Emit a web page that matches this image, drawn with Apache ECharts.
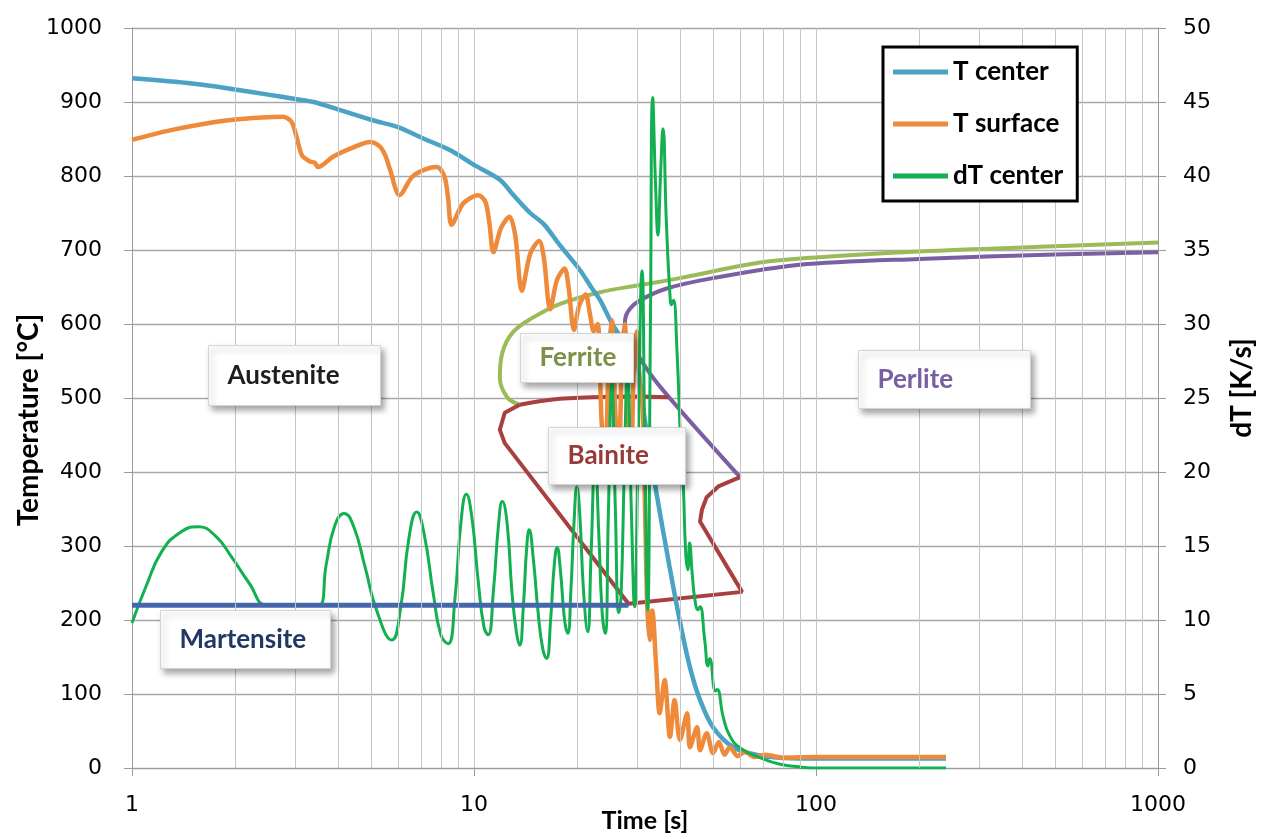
<!DOCTYPE html>
<html><head><meta charset="utf-8">
<script src="https://cdn.jsdelivr.net/npm/echarts@6/dist/echarts.min.js"></script>
<style>html,body{margin:0;padding:0;background:#fff}#c{width:1261px;height:839px}</style>
</head><body><div id="c"></div><script>
// ---- data ----
const minorTicksX = [2,3,4,5,6,7,8,9,20,30,40,50,60,70,80,90,200,300,400,500,600,700,800,900];

const tCenter = [[1,932],[1.5,925],[2,917],[2.5,910],[3,904],[3.4,900],[4,890],[5,876],[6,866],[7,852],[8.5,835],[10,815],[11.9,795],[13,775],[14.6,750],[16,735],[17.8,707],[20.4,673],[22,650],[23.4,632],[25.5,598],[27.4,578],[29.6,566],[30.6,520],[31.7,466],[34.2,370],[37.3,272],[40,198],[42.8,136],[45.8,92],[50,55],[57.3,28],[68.5,17],[90,13],[240,13]];

const tSurface = [[1,849],[1.3,862],[1.6,870],[1.97,876],[2.4,879],[2.76,880],[2.92,874],[3.02,855],[3.14,828],[3.3,820],[3.42,818],[3.5,812],[3.87,826],[4.4,838],[4.97,846],[5.3,840],[5.5,828],[5.67,810],[6.06,774],[6.6,799],[7.2,809],[7.8,812],[8.2,799],[8.4,770],[8.6,734],[9.3,763],[10.3,774],[10.8,765],[11.1,735],[11.4,697],[12.0,730],[12.7,745],[13.2,720],[13.8,645],[14.6,695],[15.5,712],[16.0,690],[16.7,620],[17.5,660],[18.4,675],[18.9,650],[19.6,592],[20.3,625],[21.2,640],[21.8,615],[22.4,590],[23.0,600],[23.6,470],[24.2,420],[24.8,560],[25.3,605],[25.9,480],[26.5,420],[27.1,560],[27.6,600],[28.2,480],[28.8,430],[29.4,560],[29.9,590],[30.5,520],[31.1,490],[31.7,330],[32.1,220],[32.6,173],[33.2,213],[34.1,137],[34.9,74],[36.1,119],[37.4,42],[38.6,92],[40,38],[42,74],[42.8,28],[44.9,55],[45.8,24],[47.9,47],[50,20],[52,35],[54,18],[56,28],[59,16],[62,22],[66,15],[71,18],[80,14],[100,15],[240,15]];

const dTCenter = [[1.0,9.8],[1.1,12.3],[1.22,14.6],[1.38,15.9],[1.56,16.3],[1.75,15.7],[1.95,14.3],[2.2,12.5],[2.48,11.0],[2.8,11.0],[3.2,11.0],[3.52,11.0],[3.7,13.8],[3.92,16.4],[4.17,17.2],[4.45,16.3],[4.8,13.6],[5.2,10.6],[5.75,8.65],[6.1,10.8],[6.45,15.5],[6.8,17.3],[7.15,15.8],[7.6,11.8],[8.0,9.0],[8.4,8.4],[8.8,11.5],[9.15,16.5],[9.5,18.5],[9.85,17],[10.3,12.5],[10.7,9.5],[11.0,9.0],[11.4,12],[11.8,16.5],[12.1,18.0],[12.5,16.5],[12.9,12],[13.3,9.2],[13.6,8.3],[13.95,11],[14.25,14.8],[14.5,16.1],[14.9,14.2],[15.4,10.5],[15.9,8],[16.3,7.4],[16.75,10],[17.15,13.6],[17.5,14.9],[17.9,13.3],[18.4,10],[18.8,9.1],[19.2,12],[19.6,16.5],[20.0,19.0],[20.4,17],[20.9,12],[21.5,9.2],[22.0,14.5],[22.6,21],[23.2,15.5],[23.7,10.5],[24.2,9.1],[24.7,17],[25.3,26],[25.9,17.5],[26.5,10.5],[26.9,11.5],[27.5,20],[28.1,27],[28.8,18],[29.5,10.9],[30.1,20],[31.0,33.6],[31.6,21],[32.2,10.7],[32.8,30],[33.3,45.3],[34.0,39],[34.5,36],[35.1,40],[35.7,43.2],[36.5,37],[37.4,32],[37.8,31.3],[38.3,31.6],[39.2,28.3],[40.2,22],[40.9,19.2],[41.6,14.5],[42.2,13.4],[42.7,15.2],[43.5,13],[44.3,11.3],[45.2,10.7],[45.8,10.9],[47.3,8.6],[48.3,6.9],[48.9,7.4],[50.8,5.2],[51.4,5.3],[53.6,3.4],[55.9,2.2],[60,1.35],[68.6,0.7],[78.5,0.25],[90,0.07],[100,0],[240,0]];

const ferrite = [[13.6,491],[12.5,501],[11.9,528],[12.1,561],[13.0,589],[14.9,609],[17.8,627],[23.4,643],[30,652],[40,662],[68.6,683],[100,690],[200,698],[500,705],[1000,710]];
const perlite = [[60,393],[40,484],[33.3,528],[29.2,569],[27.6,592],[27.7,608],[28.5,620],[30.6,632],[36.6,648],[50,662],[89.6,680],[200,688],[500,694],[1000,697]];
const bainiteTop = [[13.6,491],[17,498],[22,501],[30,502],[37,501]];
const bainite = [[60,393],[52,381],[47.9,366],[46.4,349],[45.8,333],[60.8,238],[28.3,222],[12.3,439],[11.9,457],[12.3,480],[13.6,491]];
const martensite = [[1,220],[28.3,220]];

const labelBoxes = [
  {text:'Austenite', color:'#1e1e1e', x:208, y:345, w:172, h:60},
  {text:'Ferrite', color:'#7d9048', x:520, y:333, w:113, h:49},
  {text:'Bainite', color:'#973a3a', x:548, y:427, w:137, h:57},
  {text:'Perlite', color:'#7a5ea2', x:858, y:350, w:172, h:58},
  {text:'Martensite', color:'#203864', x:160, y:610, w:170, h:58}
];

const chart = echarts.init(document.getElementById('c'));
const FONT = 'Lato';
const tickFont = {fontFamily:'DejaVu Sans', fontSize:22, color:'#000'};
const titleFont = {fontFamily:FONT, fontWeight:'bold', fontSize:25, color:'#000'};
const vTitleFont = {fontFamily:FONT, fontWeight:'bold', fontSize:28, color:'#000'};

function lineSeries(name, data, color, width, opts) {
  return Object.assign({
    name, type:'line', data, showSymbol:false, symbol:'none', color,
    lineStyle:{color, width}, animation:false, silent:true
  }, opts || {});
}

chart.setOption({
  animation:false,
  backgroundColor:'#fff',
  grid:{left:132, right:103, top:28, bottom:71, containLabel:false, outerBoundsMode:'none'},
  legend:{
    data:['T center','T surface','dT center'], z:20,
    left:883, top:47, orient:'vertical',
    backgroundColor:'#fff', borderColor:'#000', borderWidth:3,
    padding:[12,14,12,10], itemGap:26, itemWidth:55, itemHeight:5, icon:'rect',
    textStyle:{fontFamily:FONT, fontWeight:'bold', fontSize:26, color:'#000', lineHeight:26}
  },
  xAxis:{
    type:'log', logBase:10, min:1, max:1000,
    name:'Time [s]', nameLocation:'middle', nameGap:40, nameMoveOverlap:false, nameTextStyle:titleFont,
    axisLine:{lineStyle:{color:'#9a9a9a', width:1}},
    axisTick:{show:true, length:8, lineStyle:{color:'#9a9a9a'}},
    axisLabel:Object.assign({margin:26, formatter:v => String(Math.round(v))}, tickFont),
    splitLine:{show:true, lineStyle:{color:'#c6c6c6', width:1}},
    minorTick:{show:false}
  },
  yAxis:[{
    type:'value', min:0, max:1000, interval:100,
    name:'Temperature [°C]', nameLocation:'middle', nameGap:89, nameRotate:90, nameMoveOverlap:false,
    nameTextStyle:Object.assign({padding:[0,44,0,0]}, vTitleFont),
    axisLine:{show:true, lineStyle:{color:'#9a9a9a'}},
    axisTick:{show:true, length:8, lineStyle:{color:'#9a9a9a'}},
    axisLabel:Object.assign({margin:30, formatter:v => String(v)}, tickFont),
    splitLine:{show:true, lineStyle:{color:'#a8a8a8', width:1.3}}
  },{
    type:'value', min:0, max:50, interval:5, position:'right',
    name:'dT [K/s]', nameLocation:'middle', nameGap:70, nameRotate:90, nameMoveOverlap:false,
    nameTextStyle:Object.assign({padding:[0,0,0,20]}, vTitleFont),
    axisLine:{show:true, lineStyle:{color:'#9a9a9a'}},
    axisTick:{show:true, length:8, lineStyle:{color:'#9a9a9a'}},
    axisLabel:Object.assign({margin:25}, tickFont),
    splitLine:{show:false}
  }],
  series:[
    {type:'line', name:'minor', data:[], z:1, silent:true, animation:false,
     markLine:{silent:true, symbol:['none','none'], label:{show:false}, animation:false,
       lineStyle:{color:'#c6c6c6', width:1, type:'solid'},
       data:minorTicksX.map(v=>({xAxis:v}))}},
    lineSeries('Ferrite', ferrite, '#9BBB59', 4, {smooth:0.4}),
    lineSeries('Perlite', perlite, '#7B5FA3', 4, {smooth:0.3}),
    lineSeries('BainiteTop', bainiteTop, '#A8403F', 4, {smooth:0.3}),
    lineSeries('Bainite', bainite, '#A8403F', 4),
    lineSeries('T center', tCenter, '#4AA3C4', 4.5, {smooth:0.3}),
    lineSeries('T surface', tSurface, '#EE8A3A', 4.5, {smooth:0.3}),
    lineSeries('dT center', dTCenter, '#12B050', 3, {smooth:0.5, yAxisIndex:1}),
    lineSeries('Martensite', martensite, '#4466AC', 5)
  ],
  graphic: labelBoxes.map(b => ({
    type:'group', left:b.x, top:b.y, z:100,
    children:[
      {type:'rect', z:100, shape:{x:0, y:0, width:b.w, height:b.h},
       style:{fill:'#fff', stroke:'#d4d4d4', lineWidth:1, shadowBlur:6, shadowOffsetX:3, shadowOffsetY:4, shadowColor:'rgba(0,0,0,0.35)'}},
      {type:'text', z:101, x:19, y:b.h/2,
       style:{text:b.text, fill:b.color, font:'bold 26px Lato', align:'left', verticalAlign:'middle'}}
    ]
  }))
});
</script></body></html>
